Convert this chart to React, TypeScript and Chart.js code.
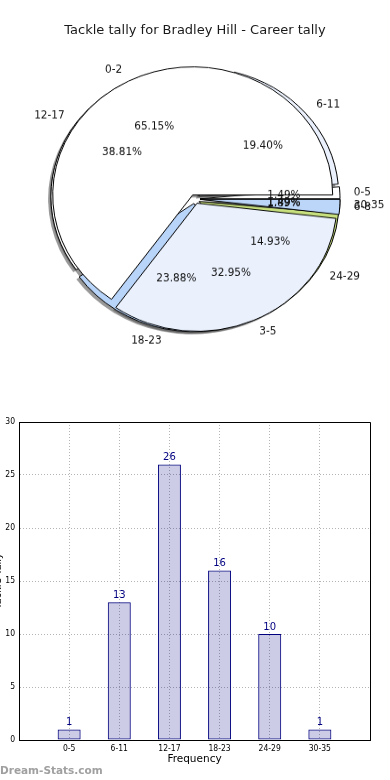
import React, { useEffect, useRef } from 'react';
import { Chart, registerables } from 'chart.js';

Chart.register(...registerables);

// ---------- data ----------
const TITLE = 'Tackle tally for Bradley Hill - Career tally';
const FREQ_CATS = ['0-5', '6-11', '12-17', '18-23', '24-29', '30-35'];
const FREQ_VALUES = [1, 13, 26, 16, 10, 1];
const FREQ_COLORS = ['#ffffff', '#eaf0fc', '#ffffff', '#b8d4f9', '#c8e07e', '#bcd6fa'];
const GAME_CATS = ['0-2', '3-5', '6-8'];
const GAME_VALUES = [172, 87, 5];
const GAME_COLORS = ['#ffffff', '#eaf1fd', '#bcd6fa'];
const Y_TICKS = [0, 5, 10, 15, 20, 25, 30];
const X_TITLE = 'Frequency';
const Y_TITLE = 'Tackle Tally';
const WATERMARK = 'Dream-Stats.com';

// ---------- style ----------
const FONT = "'DejaVu Sans', sans-serif";
const COND = "'DejaVu Sans Condensed', 'DejaVu Sans', sans-serif";
const SY = 0.915; // vertical squash of the pie (non-equal aspect)
const R = 140;
const EXPLODE = 5;
const SHADOW_DX = -2.8;
const SHADOW_DY = 2.8;

function midAngle(a: any) {
  return (a.startAngle + a.endAngle) / 2;
}

function drawArcExploded(ctx: CanvasRenderingContext2D, arc: any) {
  const m = midAngle(arc);
  ctx.save();
  ctx.translate(Math.cos(m) * EXPLODE, Math.sin(m) * EXPLODE);
  arc.draw(ctx);
  ctx.restore();
}

function drawShadow(ctx: CanvasRenderingContext2D, arc: any) {
  const m = midAngle(arc);
  ctx.save();
  ctx.translate(Math.cos(m) * EXPLODE + SHADOW_DX, Math.sin(m) * EXPLODE + SHADOW_DY);
  ctx.beginPath();
  ctx.moveTo(arc.x, arc.y);
  ctx.arc(arc.x, arc.y, arc.outerRadius, arc.startAngle, arc.endAngle);
  ctx.closePath();
  ctx.fillStyle = 'rgba(70,70,70,0.55)';
  ctx.fill();
  ctx.restore();
}

function pieText(ctx: CanvasRenderingContext2D, str: string, x: number, y: number, align: CanvasTextAlign) {
  ctx.save();
  ctx.translate(x, y);
  ctx.scale(1, 1 / SY);
  ctx.font = `10.5px ${FONT}`;
  ctx.fillStyle = '#111';
  ctx.textAlign = align;
  ctx.textBaseline = 'middle';
  ctx.fillText(str, 0, 0);
  ctx.restore();
}

function drawPieLabels(ctx: CanvasRenderingContext2D, chart: any) {
  const meta = chart.getDatasetMeta(0);
  const labels = chart.data.labels as string[];
  const values = chart.data.datasets[0].data as number[];
  const total = values.reduce((s, v) => s + v, 0);
  meta.data.forEach((arc: any, i: number) => {
    const m = midAngle(arc);
    const c = Math.cos(m);
    const s = Math.sin(m);
    const rl = 1.1 * arc.outerRadius + EXPLODE;
    pieText(ctx, labels[i], arc.x + c * rl, arc.y + s * rl, c >= 0 ? 'left' : 'right');
    const rp = 0.6 * arc.outerRadius + EXPLODE;
    pieText(ctx, ((values[i] / total) * 100).toFixed(2) + '%', arc.x + c * rp, arc.y + s * rp, 'center');
  });
}

function pieConfig(cats: string[], values: number[], colors: string[], plugin: any): any {
  // matplotlib draws counter-clockwise from 3 o'clock; Chart.js clockwise -> reverse
  return {
    type: 'pie',
    data: {
      labels: [...cats].reverse(),
      datasets: [
        {
          data: [...values].reverse(),
          backgroundColor: [...colors].reverse(),
          borderColor: '#000000',
          borderWidth: 1,
          borderJoinStyle: 'miter',
          offset: 0,
          hoverOffset: 0,
        },
      ],
    },
    options: {
      animation: false,
      responsive: true,
      maintainAspectRatio: false,
      radius: R,
      rotation: 90,
      events: [],
      layout: { padding: 0 },
      plugins: { legend: { display: false }, tooltip: { enabled: false }, title: { display: false } },
    },
    plugins: [plugin],
  };
}

export default function App() {
  const outerCanvas = useRef<HTMLCanvasElement>(null);
  const innerCanvas = useRef<HTMLCanvasElement>(null);
  const barCanvas = useRef<HTMLCanvasElement>(null);

  useEffect(() => {
    document.body.style.margin = '0';
    let outerChart: any = null;
    let innerChart: any = null;
    let syncing = false;

    const innerPlugin = {
      id: 'innerPie',
      beforeDatasetsDraw(chart: any) {
        chart.getDatasetMeta(0).data.forEach((a: any) => drawArcExploded(chart.ctx, a));
        return false;
      },
      afterDraw(chart: any) {
        if (outerChart) drawPieLabels(chart.ctx, outerChart);
        drawPieLabels(chart.ctx, chart);
        if (outerChart && !syncing) {
          syncing = true;
          outerChart.draw();
          syncing = false;
        }
      },
    };
    const outerPlugin = {
      id: 'outerPie',
      beforeDatasetsDraw(chart: any) {
        const ctx = chart.ctx;
        const metas: any[] = [];
        if (innerChart) metas.push(innerChart.getDatasetMeta(0));
        metas.push(chart.getDatasetMeta(0));
        metas.forEach((m) => m.data.forEach((a: any) => drawShadow(ctx, a)));
        chart.getDatasetMeta(0).data.forEach((a: any) => drawArcExploded(ctx, a));
        return false;
      },
      afterDraw() {
        if (innerChart && !syncing) {
          syncing = true;
          innerChart.draw();
          syncing = false;
        }
      },
    };

    innerChart = new Chart(innerCanvas.current!, pieConfig(GAME_CATS, GAME_VALUES, GAME_COLORS, innerPlugin));
    outerChart = new Chart(outerCanvas.current!, pieConfig(FREQ_CATS, FREQ_VALUES, FREQ_COLORS, outerPlugin));

    // ---------- bar chart ----------
    const xLabels = ['', ...FREQ_CATS, ''];
    const barData = [null, ...FREQ_VALUES, null];
    const barPlugin = {
      id: 'barExtras',
      afterDatasetsDraw(chart: any) {
        const ctx = chart.ctx;
        const meta = chart.getDatasetMeta(0);
        ctx.save();
        ctx.font = `10px ${FONT}`;
        ctx.fillStyle = '#000080';
        ctx.textAlign = 'center';
        ctx.textBaseline = 'middle';
        meta.data.forEach((bar: any, i: number) => {
          const v = chart.data.datasets[0].data[i];
          if (v == null) return;
          ctx.fillText(String(v), bar.x, bar.y - 7);
        });
        ctx.restore();
      },
      afterDraw(chart: any) {
        const ctx = chart.ctx;
        const a = chart.chartArea;
        ctx.save();
        ctx.strokeStyle = '#000';
        ctx.lineWidth = 1;
        ctx.beginPath();
        ctx.moveTo(Math.round(a.left) + 0.5, Math.round(a.top) + 0.5);
        ctx.lineTo(Math.round(a.right) + 0.5, Math.round(a.top) + 0.5);
        ctx.lineTo(Math.round(a.right) + 0.5, Math.round(a.bottom) + 0.5);
        ctx.stroke();
        ctx.translate(0.5, (a.top + a.bottom) / 2);
        ctx.rotate(-Math.PI / 2);
        ctx.font = `10px ${FONT}`;
        ctx.fillStyle = '#000';
        ctx.textAlign = 'center';
        ctx.textBaseline = 'alphabetic';
        ctx.fillText(Y_TITLE, 0, 0);
        ctx.restore();
      },
    };

    const gridCommon = { color: '#b4b4b4', lineWidth: 1, drawTicks: false, offset: false };
    const barChart = new Chart(barCanvas.current!, {
      type: 'bar',
      data: {
        labels: xLabels,
        datasets: [
          {
            data: barData as any,
            backgroundColor: 'rgba(0,0,128,0.2)',
            borderColor: '#00007f',
            borderWidth: 1,
            borderSkipped: false,
            inflateAmount: 0,
            barThickness: 23,
          },
        ],
      },
      options: {
        animation: false,
        responsive: true,
        maintainAspectRatio: false,
        events: [],
        layout: { padding: { top: 22, right: 20, left: 0, bottom: 0 } },
        plugins: { legend: { display: false }, tooltip: { enabled: false }, title: { display: false } },
        scales: {
          x: {
            type: 'category',
            offset: false,
            grid: gridCommon,
            border: { display: true, color: '#000', width: 1, dash: [1, 2] },
            ticks: { font: { family: COND, size: 8.5 }, color: '#000', padding: 4, autoSkip: false, maxRotation: 0 },
            title: { display: true, text: X_TITLE, font: { family: FONT, size: 10.5 }, color: '#000', padding: { top: 0, bottom: 14 } },
            afterFit(s: any) {
              s.height = 40;
            },
          },
          y: {
            min: 0,
            max: 30,
            grid: gridCommon,
            border: { display: true, color: '#000', width: 1, dash: [1, 2] },
            ticks: { font: { family: COND, size: 8.5 }, color: '#000', padding: 4 },
            afterBuildTicks(s: any) {
              s.ticks = Y_TICKS.map((v) => ({ value: v }));
            },
            afterFit(s: any) {
              s.width = 19;
            },
          },
        },
      } as any,
      plugins: [barPlugin],
    });

    return () => {
      innerChart.destroy();
      outerChart.destroy();
      barChart.destroy();
    };
  }, []);

  const pieBox: React.CSSProperties = {
    position: 'absolute',
    left: 0,
    top: 19,
    width: 390,
    height: 360,
    transform: `scaleY(${SY})`,
    transformOrigin: '50% 50%',
  };

  return (
    <div style={{ position: 'relative', width: 390, height: 780, background: '#fff', overflow: 'hidden' }}>
      <div
        style={{
          position: 'absolute',
          left: 0,
          top: 22,
          width: 390,
          textAlign: 'center',
          font: `13px ${FONT}`,
          lineHeight: '16px',
          color: '#1a1a1a',
          zIndex: 5,
        }}
      >
        {TITLE}
      </div>
      <div style={pieBox}>
        <canvas ref={outerCanvas} />
      </div>
      <div style={pieBox}>
        <canvas ref={innerCanvas} />
      </div>
      <div style={{ position: 'absolute', left: 0, top: 400, width: 390, height: 380 }}>
        <canvas ref={barCanvas} />
      </div>
      <div
        style={{
          position: 'absolute',
          left: 0,
          top: 763,
          font: `bold 10.5px ${FONT}`,
          lineHeight: '14px',
          color: '#a0a0a0',
        }}
      >
        {WATERMARK}
      </div>
    </div>
  );
}
